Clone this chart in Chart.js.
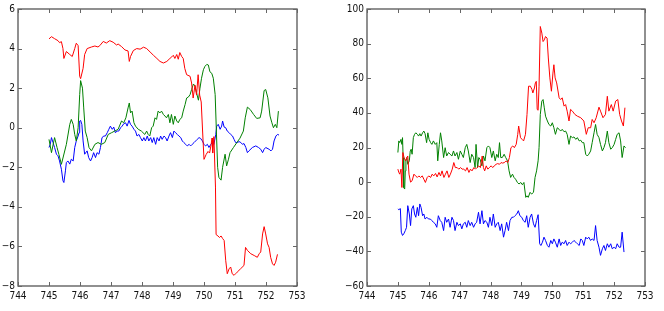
<!DOCTYPE html>
<html>
<head>
<meta charset="utf-8">
<script src="https://cdn.jsdelivr.net/npm/chart.js@4/dist/chart.umd.min.js"></script>
<style>
html,body{margin:0;padding:0;background:#fff;}
#wrap{position:relative;width:664px;height:311px;overflow:hidden;}
canvas{position:absolute;top:0;}
#c1{left:0;}
#c2{left:332px;}
</style>
</head>
<body>
<div id="wrap">
<canvas id="c1" width="332" height="311"></canvas>
<canvas id="c2" width="332" height="311"></canvas>
</div>
<script>
// ---- Left panel series [x, y] ----
const leftRed = [[745.00,4.49],[745.08,4.60],[745.18,4.50],[745.29,4.40],[745.34,4.30],[745.40,4.35],[745.45,4.00],[745.48,3.50],[745.56,3.85],[745.67,3.70],[745.75,3.60],[745.83,4.00],[745.88,4.27],[745.94,4.15],[745.99,2.60],[746.02,2.48],[746.10,3.00],[746.15,3.70],[746.23,4.00],[746.37,4.08],[746.48,4.13],[746.58,4.08],[746.64,4.15],[746.75,4.36],[746.85,4.28],[746.96,4.40],[747.07,4.32],[747.18,4.18],[747.23,4.23],[747.34,4.10],[747.45,3.93],[747.55,3.88],[747.59,3.35],[747.63,3.60],[747.72,3.90],[747.83,4.00],[747.94,3.97],[748.05,4.07],[748.15,4.00],[748.26,3.83],[748.37,3.66],[748.48,3.50],[748.58,3.35],[748.69,3.27],[748.80,3.35],[748.90,3.50],[748.96,3.58],[749.01,3.66],[749.06,3.50],[749.12,3.70],[749.17,3.46],[749.22,3.80],[749.28,3.60],[749.33,3.50],[749.38,3.00],[749.44,2.68],[749.55,2.60],[749.60,2.26],[749.65,1.50],[749.71,2.15],[749.76,1.65],[749.81,2.68],[749.86,1.65],[749.91,1.30],[749.97,-0.67],[750.00,-1.60],[750.07,-1.35],[750.13,-1.20],[750.18,-1.28],[750.23,-0.85],[750.26,-0.52],[750.28,-1.28],[750.32,-0.45],[750.37,-3.0],[750.39,-5.40],[750.45,-5.47],[750.50,-5.55],[750.55,-5.47],[750.60,-5.60],[750.65,-5.70],[750.70,-6.70],[750.75,-7.38],[750.81,-7.13],[750.86,-7.04],[750.91,-7.38],[750.97,-7.46],[751.02,-7.38],[751.07,-7.30],[751.18,-7.13],[751.29,-6.96],[751.34,-6.05],[751.40,-6.20],[751.51,-6.37],[751.62,-6.46],[751.72,-6.55],[751.78,-6.37],[751.83,-6.28],[751.89,-5.37],[751.94,-5.00],[751.99,-5.37],[752.05,-5.87],[752.10,-6.05],[752.15,-6.55],[752.21,-6.88],[752.26,-6.96],[752.31,-6.80],[752.37,-6.40]];

const leftGreen = [[745.00,-0.59],[745.08,-1.26],[745.18,-0.50],[745.26,-1.00],[745.32,-1.35],[745.40,-1.85],[745.56,-0.84],[745.67,0.17],[745.72,0.42],[745.78,0.17],[745.83,-0.34],[745.88,-0.67],[745.94,0.00],[745.99,1.67],[746.02,2.38],[746.08,2.00],[746.12,1.00],[746.17,-0.17],[746.23,-0.50],[746.29,-1.00],[746.37,-1.17],[746.48,-0.84],[746.58,-0.75],[746.69,-0.84],[746.80,-0.75],[746.91,-0.34],[747.02,-0.25],[747.12,-0.17],[747.23,-0.08],[747.34,0.34],[747.41,0.25],[747.48,0.50],[747.55,1.00],[747.59,1.25],[747.63,0.75],[747.68,0.84],[747.74,0.25],[747.79,0.08],[747.88,-0.08],[747.98,-0.17],[748.09,-0.34],[748.15,-0.17],[748.20,-0.34],[748.25,-0.42],[748.31,0.00],[748.36,0.08],[748.42,0.50],[748.47,0.42],[748.52,0.84],[748.58,0.75],[748.63,0.84],[748.69,0.67],[748.74,0.59],[748.79,0.50],[748.85,0.67],[748.90,0.25],[748.95,0.67],[749.01,0.17],[749.06,0.59],[749.12,0.34],[749.17,0.25],[749.22,0.42],[749.28,0.50],[749.33,0.84],[749.39,1.17],[749.44,1.50],[749.49,1.54],[749.55,1.67],[749.60,1.93],[749.66,2.21],[749.71,2.10],[749.76,1.76],[749.82,1.39],[749.87,2.00],[749.92,2.50],[749.98,2.93],[750.03,3.10],[750.09,3.20],[750.14,3.17],[750.19,2.83],[750.25,2.75],[750.30,2.50],[750.36,1.67],[750.41,-0.67],[750.44,-2.00],[750.48,-2.51],[750.55,-2.65],[750.60,-2.00],[750.68,-1.34],[750.73,-1.93],[750.79,-1.59],[750.84,-1.26],[750.95,-1.00],[751.06,-0.75],[751.16,-0.53],[751.27,-0.17],[751.33,0.50],[751.40,1.04],[751.49,0.92],[751.60,0.67],[751.70,0.47],[751.81,0.50],[751.86,0.84],[751.94,1.88],[751.99,1.93],[752.06,1.51],[752.13,0.59],[752.19,0.25],[752.24,0.00],[752.30,0.17],[752.35,0.00],[752.40,0.84]];

const leftBlue = [[745.00,-1.00],[745.04,-0.84],[745.08,-0.50],[745.13,-0.75],[745.18,-1.00],[745.24,-1.34],[745.29,-1.42],[745.34,-1.68],[745.40,-2.10],[745.45,-2.68],[745.48,-2.77],[745.53,-2.18],[745.56,-1.76],[745.61,-1.68],[745.67,-1.84],[745.72,-1.59],[745.78,-1.68],[745.83,-1.00],[745.88,-0.67],[745.94,-0.42],[745.97,-0.25],[745.99,0.34],[746.02,0.37],[746.06,0.17],[746.10,-0.67],[746.15,-1.34],[746.23,-1.17],[746.28,-1.51],[746.34,-1.68],[746.39,-1.51],[746.44,-1.26],[746.50,-1.51],[746.55,-1.26],[746.61,-1.34],[746.66,-1.00],[746.71,-0.50],[746.77,-0.42],[746.82,-0.42],[746.88,-0.25],[746.93,-0.08],[746.98,0.08],[747.04,-0.08],[747.09,0.03],[747.14,-0.25],[747.20,-0.17],[747.25,-0.17],[747.31,0.00],[747.36,0.08],[747.41,0.20],[747.47,0.25],[747.52,0.08],[747.58,0.37],[747.63,0.17],[747.68,0.08],[747.74,-0.08],[747.79,-0.17],[747.84,-0.42],[747.90,-0.34],[747.95,-0.50],[748.01,-0.67],[748.06,-0.50],[748.11,-0.67],[748.17,-0.42],[748.22,-0.67],[748.28,-0.50],[748.33,-0.75],[748.38,-0.50],[748.44,-0.84],[748.49,-0.50],[748.55,-0.67],[748.60,-0.42],[748.65,-0.59],[748.71,-0.42],[748.76,-0.50],[748.81,-0.67],[748.87,-0.42],[748.92,-0.25],[748.98,-0.50],[749.03,-0.17],[749.08,-0.25],[749.14,-0.34],[749.19,-0.42],[749.25,-0.50],[749.30,-0.67],[749.35,-0.75],[749.41,-0.84],[749.46,-0.92],[749.52,-0.84],[749.57,-0.92],[749.62,-0.84],[749.68,-0.75],[749.73,-0.67],[749.78,-0.59],[749.84,-0.50],[749.89,-0.54],[749.95,-0.67],[750.00,-0.84],[750.05,-0.92],[750.11,-0.84],[750.16,-1.00],[750.22,-0.84],[750.27,-0.75],[750.32,-0.84],[750.38,-0.34],[750.41,0.08],[750.46,0.17],[750.52,-0.08],[750.57,0.08],[750.60,0.34],[750.65,0.03],[750.70,0.00],[750.75,-0.17],[750.81,-0.25],[750.86,-0.34],[750.92,-0.42],[750.97,-0.59],[751.02,-0.75],[751.08,-0.75],[751.13,-0.70],[751.19,-0.75],[751.24,-0.84],[751.29,-0.80],[751.35,-1.00],[751.40,-1.26],[751.45,-1.17],[751.56,-1.00],[751.67,-0.92],[751.76,-1.00],[751.83,-1.09],[751.89,-1.26],[751.94,-1.09],[751.99,-1.00],[752.10,-1.09],[752.16,-1.17],[752.21,-1.09],[752.26,-0.67],[752.32,-0.42],[752.37,-0.34],[752.42,-0.37]];

// ---- Right panel series [x, y] ----
const rightRed = [[745.00,7.5],[745.03,5.6],[745.06,4.6],[745.10,7.5],[745.13,-3.1],[745.16,17.1],[745.20,14.2],[745.25,12.3],[745.29,14.2],[745.32,15.1],[745.36,4.6],[745.41,0.0],[745.46,0.8],[745.52,4.6],[745.57,3.6],[745.63,2.7],[745.68,3.6],[745.73,2.7],[745.79,3.6],[745.84,1.7],[745.89,-0.2],[745.95,2.7],[746.00,3.6],[746.06,2.7],[746.11,4.6],[746.16,3.6],[746.22,5.0],[746.27,3.0],[746.33,5.6],[746.38,3.6],[746.43,6.5],[746.49,2.7],[746.54,4.6],[746.59,6.5],[746.65,2.7],[746.70,4.6],[746.76,7.5],[746.81,11.3],[746.86,8.4],[746.92,8.4],[746.97,7.5],[747.03,8.4],[747.08,7.5],[747.13,7.5],[747.19,6.5],[747.24,8.4],[747.30,5.6],[747.35,7.5],[747.40,6.5],[747.46,8.4],[747.51,7.5],[747.56,8.4],[747.62,9.4],[747.67,8.4],[747.73,15.1],[747.77,8.4],[747.81,6.5],[747.86,9.4],[747.91,7.5],[747.96,8.4],[748.02,9.4],[748.07,8.4],[748.12,9.4],[748.18,10.3],[748.23,10.7],[748.29,10.3],[748.34,11.3],[748.39,11.0],[748.45,11.3],[748.50,12.3],[748.56,11.3],[748.61,14.2],[748.66,19.9],[748.72,20.9],[748.77,19.9],[748.83,21.8],[748.88,27.6],[748.91,32.4],[748.97,25.7],[749.02,24.7],[749.07,23.8],[749.13,27.6],[749.18,39.1],[749.23,55.4],[749.29,55.4],[749.34,53.5],[749.37,51.5],[749.42,54.4],[749.45,57.3],[749.48,58.2],[749.51,42.0],[749.54,41.5],[749.57,55.4],[749.61,89.9],[749.66,86.1],[749.70,81.2],[749.74,82.2],[749.78,84.1],[749.83,83.2],[749.87,71.7],[749.92,60.2],[749.97,52.5],[750.02,63.0],[750.05,67.8],[750.09,60.2],[750.14,57.3],[750.22,48.7],[750.27,47.7],[750.32,48.7],[750.38,43.9],[750.43,44.8],[750.48,41.0],[750.54,35.3],[750.59,42.0],[750.65,41.0],[750.73,39.1],[750.81,38.1],[750.92,37.2],[751.02,35.3],[751.10,27.6],[751.16,31.4],[751.24,31.4],[751.29,36.2],[751.35,34.3],[751.42,37.2],[751.51,43.3],[751.56,41.0],[751.64,37.2],[751.72,39.1],[751.78,49.6],[751.83,41.0],[751.91,44.8],[751.97,41.0],[752.05,46.8],[752.12,47.7],[752.18,39.1],[752.24,35.3],[752.30,32.4],[752.35,43.0]];

const rightGreen = [[745.00,17.1],[745.03,23.8],[745.06,22.8],[745.10,24.7],[745.13,21.8],[745.15,25.7],[745.17,14.2],[745.19,-3.1],[745.22,-4.0],[745.24,6.5],[745.26,12.3],[745.29,14.2],[745.32,10.3],[745.37,12.3],[745.40,18.0],[745.43,19.0],[745.46,16.1],[745.50,25.7],[745.54,27.6],[745.58,28.5],[745.63,27.6],[745.67,26.6],[745.71,28.0],[745.75,26.6],[745.80,28.5],[745.84,29.5],[745.88,28.0],[745.93,22.8],[745.97,28.5],[746.01,24.7],[746.06,22.8],[746.10,21.8],[746.15,23.8],[746.21,21.8],[746.26,22.8],[746.29,12.3],[746.34,21.8],[746.38,28.5],[746.42,23.8],[746.48,14.2],[746.53,19.9],[746.58,15.1],[746.64,17.1],[746.69,16.1],[746.75,15.1],[746.80,18.0],[746.85,15.1],[746.91,17.1],[746.96,13.2],[747.02,18.0],[747.07,16.1],[747.12,14.2],[747.18,19.9],[747.23,21.8],[747.28,18.0],[747.34,11.3],[747.39,16.1],[747.45,14.2],[747.50,8.4],[747.53,21.8],[747.58,8.4],[747.62,14.2],[747.66,13.2],[747.72,9.4],[747.77,15.1],[747.82,12.3],[747.88,19.9],[747.93,20.9],[747.98,19.9],[748.04,14.2],[748.09,18.0],[748.15,12.3],[748.20,16.1],[748.25,14.2],[748.29,22.8],[748.33,14.2],[748.38,14.2],[748.44,16.1],[748.49,14.2],[748.55,12.3],[748.60,6.5],[748.65,2.7],[748.71,4.6],[748.76,2.7],[748.81,1.7],[748.87,-0.2],[748.92,-1.1],[748.98,-0.2],[749.03,-1.5],[749.08,-0.2],[749.14,-8.8],[749.18,-7.9],[749.22,-8.8],[749.28,-5.9],[749.33,-6.9],[749.39,-5.9],[749.44,2.7],[749.49,6.5],[749.54,12.3],[749.57,19.9],[749.61,39.1],[749.66,46.8],[749.70,47.7],[749.74,42.9],[749.78,38.1],[749.84,35.3],[749.89,33.3],[749.95,32.4],[750.00,34.3],[750.05,31.4],[750.10,27.6],[750.16,31.4],[750.22,30.5],[750.27,29.5],[750.32,30.5],[750.38,29.1],[750.43,29.5],[750.48,27.6],[750.54,21.8],[750.59,26.6],[750.65,25.7],[750.70,26.1],[750.76,24.7],[750.81,25.7],[750.87,23.8],[750.92,24.2],[750.97,22.8],[751.02,22.8],[751.08,16.1],[751.13,15.1],[751.18,16.1],[751.24,18.0],[751.29,22.8],[751.35,28.5],[751.40,33.3],[751.45,27.6],[751.51,25.7],[751.56,21.8],[751.62,18.0],[751.67,19.9],[751.72,22.8],[751.78,29.5],[751.83,22.8],[751.89,19.0],[751.94,19.9],[752.00,21.8],[752.05,24.7],[752.10,27.6],[752.16,28.5],[752.21,23.8],[752.26,14.2],[752.32,20.9],[752.37,19.9]];

const rightBlue = [[745.00,-15.5],[745.03,-15.9],[745.08,-15.3],[745.11,-28.9],[745.15,-30.8],[745.19,-29.9],[745.24,-28.0],[745.28,-26.1],[745.32,-13.6],[745.37,-18.4],[745.41,-25.1],[745.45,-15.5],[745.50,-13.6],[745.54,-18.4],[745.58,-20.3],[745.63,-14.6],[745.67,-19.4],[745.71,-12.6],[745.75,-14.6],[745.80,-19.4],[745.84,-18.4],[745.88,-21.3],[745.94,-20.3],[745.99,-21.3],[746.05,-21.3],[746.10,-22.2],[746.15,-23.2],[746.21,-24.1],[746.26,-26.1],[746.31,-19.4],[746.37,-22.2],[746.42,-23.2],[746.48,-28.0],[746.53,-20.3],[746.58,-23.2],[746.64,-21.3],[746.69,-26.1],[746.75,-20.3],[746.80,-22.2],[746.85,-28.0],[746.91,-23.2],[746.96,-25.1],[747.02,-24.1],[747.07,-27.0],[747.12,-24.1],[747.18,-23.2],[747.23,-26.1],[747.28,-22.2],[747.34,-25.1],[747.39,-23.2],[747.45,-26.1],[747.50,-24.1],[747.55,-23.2],[747.61,-17.4],[747.66,-24.1],[747.72,-16.5],[747.77,-24.1],[747.82,-22.2],[747.88,-23.2],[747.93,-26.1],[747.98,-20.3],[748.04,-25.1],[748.09,-18.4],[748.15,-26.1],[748.20,-24.1],[748.25,-23.2],[748.31,-28.0],[748.36,-24.1],[748.42,-31.8],[748.47,-28.0],[748.52,-23.2],[748.58,-28.0],[748.63,-22.2],[748.69,-20.3],[748.74,-20.3],[748.79,-19.4],[748.85,-18.4],[748.90,-16.5],[748.95,-19.4],[749.01,-20.3],[749.06,-22.2],[749.12,-23.2],[749.17,-19.4],[749.22,-26.1],[749.28,-20.3],[749.33,-18.4],[749.39,-24.1],[749.44,-26.1],[749.49,-22.2],[749.54,-18.8],[749.59,-35.6],[749.63,-36.6],[749.68,-34.7],[749.73,-31.8],[749.78,-33.7],[749.84,-36.6],[749.89,-37.6],[749.95,-33.7],[750.00,-35.6],[750.05,-32.8],[750.10,-34.7],[750.16,-37.6],[750.22,-32.8],[750.27,-36.6],[750.32,-34.7],[750.38,-35.6],[750.43,-33.7],[750.48,-36.6],[750.54,-34.7],[750.59,-35.6],[750.65,-34.7],[750.70,-33.7],[750.76,-34.7],[750.81,-35.6],[750.87,-36.6],[750.92,-32.8],[750.97,-33.7],[751.02,-36.6],[751.08,-31.8],[751.13,-32.8],[751.18,-31.8],[751.24,-33.7],[751.29,-32.8],[751.35,-33.7],[751.40,-25.1],[751.45,-33.7],[751.51,-37.6],[751.56,-42.3],[751.62,-38.5],[751.67,-36.6],[751.72,-39.5],[751.78,-35.6],[751.83,-37.6],[751.89,-35.6],[751.94,-38.5],[752.00,-37.6],[752.05,-38.5],[752.10,-35.6],[752.16,-37.6],[752.21,-37.6],[752.26,-28.9],[752.32,-40.4]];

// ---- Axis ranges / ticks ----
const xRange = [744, 753, 1];
const leftYRange = [-8, 6, 2];
const rightYRange = [-60, 100, 20];

const FONT = "'DejaVu Sans Condensed','DejaVu Sans',sans-serif";

const framePlugin = {
  id: 'frame',
  afterDraw(chart) {
    const {ctx, chartArea: a, scales} = chart;
    const x = scales.x, y = scales.y;
    ctx.save();
    ctx.strokeStyle = '#555';
    ctx.lineWidth = 1.3;
    ctx.strokeRect(a.left, a.top, a.right - a.left, a.bottom - a.top);
    ctx.lineWidth = 1;
    ctx.strokeStyle = '#666';
    const L = 4;
    ctx.beginPath();
    x.ticks.forEach(t => {
      const p = Math.round(x.getPixelForValue(t.value)) + 0.5;
      ctx.moveTo(p, a.bottom); ctx.lineTo(p, a.bottom - L);
      ctx.moveTo(p, a.top); ctx.lineTo(p, a.top + L);
    });
    y.ticks.forEach(t => {
      const p = Math.round(y.getPixelForValue(t.value)) + 0.5;
      ctx.moveTo(a.left, p); ctx.lineTo(a.left + L, p);
      ctx.moveTo(a.right, p); ctx.lineTo(a.right - L, p);
    });
    ctx.stroke();
    ctx.restore();
  }
};

function toPts(arr) { return arr.map(p => ({x: p[0], y: p[1]})); }

function makeChart(id, series, yRange, area) {
  const colors = ['#ff0000', '#008000', '#0000ff'];
  return new Chart(document.getElementById(id), {
    type: 'line',
    data: {
      datasets: series.map((s, i) => ({
        data: toPts(s),
        borderColor: colors[i],
        borderWidth: 1,
        pointRadius: 0,
        tension: 0,
        fill: false
      }))
    },
    options: {
      responsive: false,
      animation: false,
      events: [],
      plugins: {legend: {display: false}, tooltip: {enabled: false}},
      layout: {padding: {left: 0, right: 332 - area.right, top: area.top, bottom: 0}},
      scales: {
        x: {
          type: 'linear',
          min: xRange[0], max: xRange[1],
          grid: {display: false, drawTicks: false},
          border: {display: false},
          ticks: {stepSize: xRange[2], color: '#111', font: {family: FONT, size: 10}, padding: 4, maxRotation: 0, autoSkip: false},
          afterFit(scale) { scale.height = 311 - area.bottom - area.top * 0; }
        },
        y: {
          type: 'linear',
          min: yRange[0], max: yRange[1],
          grid: {display: false, drawTicks: false},
          border: {display: false},
          ticks: {
            stepSize: yRange[2], color: '#111', font: {family: FONT, size: 10}, padding: 3,
            callback: v => String(v).replace('-', '\u2212')
          },
          afterFit(scale) { scale.width = area.left; }
        }
      }
    },
    plugins: [framePlugin]
  });
}

makeChart('c1', [leftRed, leftGreen, leftBlue], leftYRange, {left: 18, right: 297, top: 7, bottom: 286});
makeChart('c2', [rightRed, rightGreen, rightBlue], rightYRange, {left: 35, right: 313, top: 7, bottom: 286});
</script>
</body>
</html>
